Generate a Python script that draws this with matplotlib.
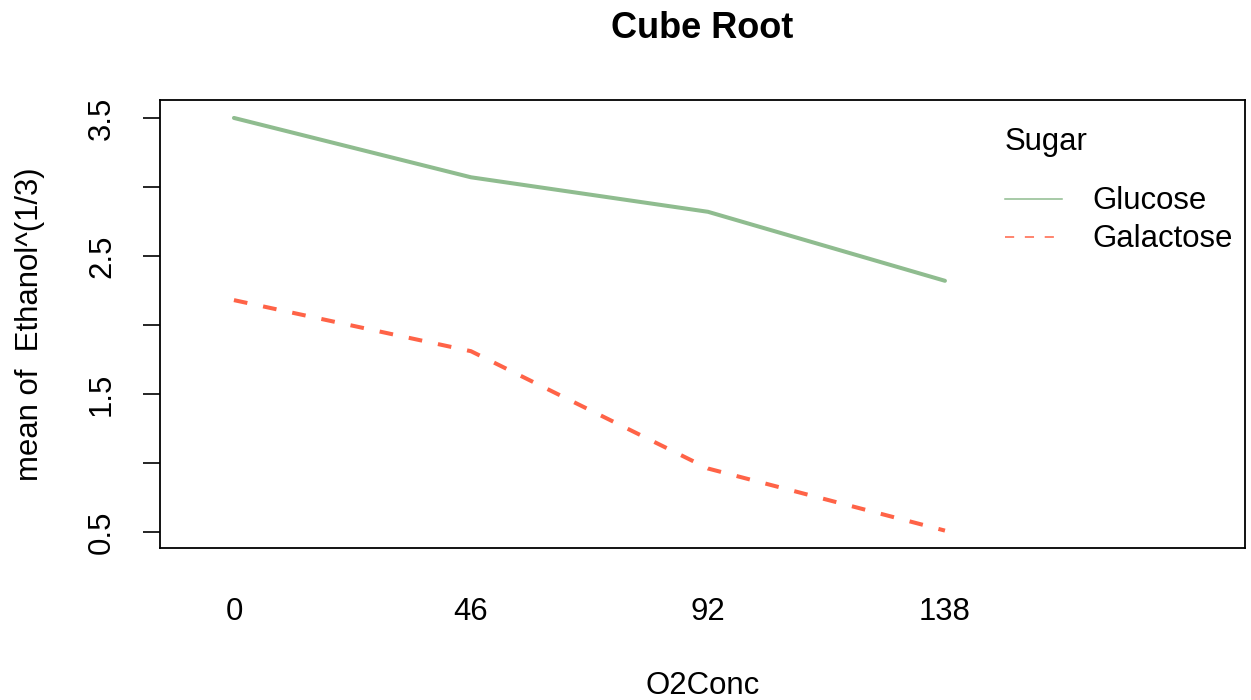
import matplotlib
matplotlib.use("Agg")
import matplotlib.pyplot as plt
from matplotlib.lines import Line2D

plt.rcParams['font.family'] = ['Liberation Sans', 'DejaVu Sans']

# mean of Ethanol^(1/3) per oxygen concentration
o2_levels = ["0", "46", "92", "138"]
glucose = [3.50, 3.07, 2.82, 2.32]
galactose = [2.18, 1.81, 0.96, 0.51]
sugars = ["Glucose", "Galactose"]
colors = ["#8fbc8f", "#ff6347"]

fig = plt.figure(figsize=(12.51, 7.0), dpi=100)
ax = fig.add_axes([160/1251, 1 - 548/700, 1085/1251, 448/700])

x = list(range(1, len(o2_levels) + 1))
ax.plot(x, glucose, color=colors[0], lw=2.9, solid_capstyle='round')
ax.plot(x, galactose, color=colors[1], lw=2.9, dashes=(3.4, 4.0),
        dash_capstyle='butt')

ax.set_xlim(0.688, 5.266)
ax.set_ylim(0.384, 3.63)

fs = 22.4
ax.set_xticks(x)
ax.set_xticklabels(o2_levels, fontsize=fs)
ax.tick_params(axis='x', length=0, pad=35)
ax.set_yticks([0.5, 1.0, 1.5, 2.0, 2.5, 3.0, 3.5])
ax.set_yticklabels(["0.5", "", "1.5", "", "2.5", "", "3.5"], fontsize=fs,
                   rotation=90, va='center')
ax.tick_params(axis='y', length=12, width=1.2, pad=19)
for s in ax.spines.values():
    s.set_linewidth(1.3)

ax.set_xlabel("O2Conc", fontsize=fs, va='center')
ax.xaxis.set_label_coords(0.5, -(686 - 548) / 448)
ax.set_ylabel("mean of  Ethanol^(1/3)", fontsize=fs, va='center')
ax.yaxis.set_label_coords((30 - 160) / 1085, 0.5)

ax.set_title("Cube Root", fontsize=26, fontweight='bold', y=1 + 72/448,
             va='center', pad=0)

# legend drawn by hand, R style
ax.text(0.7788, 0.9062, "Sugar", transform=ax.transAxes, fontsize=fs,
        ha='left', va='center')
leg_y = [0.7746, 0.6897]
for name, col, yy, ls in zip(sugars, colors, leg_y, ['-', (0, (6, 7))]):
    ax.add_line(Line2D([0.7788, 0.8313], [yy + 0.005, yy + 0.005],
                       transform=ax.transAxes, color=col, lw=1.1,
                       linestyle=ls))
    ax.text(0.859, yy, name, transform=ax.transAxes, fontsize=fs,
            ha='left', va='center')

fig.savefig("out.png", dpi=100)
